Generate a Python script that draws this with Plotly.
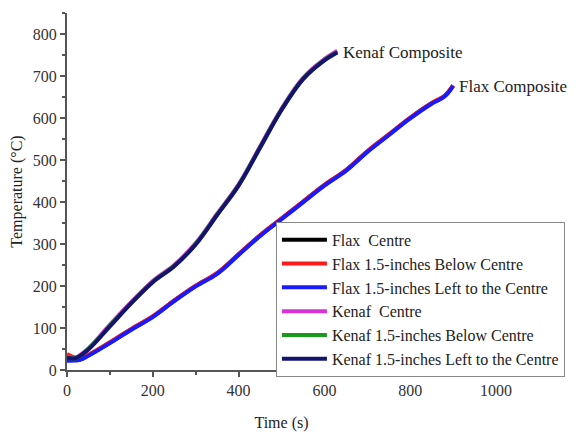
import plotly.graph_objects as go

# Time (s)
kenaf_time = [0, 20, 50, 100, 150, 200, 250, 300, 350, 400, 450, 500, 550, 600, 630]
flax_time = [0, 30, 50, 100, 150, 200, 250, 300, 350, 400, 450, 500, 550, 600, 650, 700, 750, 800, 850, 880, 900]

# Temperature (°C)
kenaf_centre = [32, 30, 52, 108, 162, 212, 250, 302, 372, 442, 532, 622, 695, 740, 760]
kenaf_below = [30, 28, 50, 105, 160, 210, 248, 300, 370, 440, 530, 620, 693, 738, 757]
kenaf_left = [29, 28, 49, 104, 159, 209, 247, 299, 369, 439, 529, 619, 692, 737, 756]

flax_centre = [24, 25, 35, 65, 97, 127, 165, 200, 230, 275, 320, 360, 400, 440, 475, 520, 560, 600, 635, 652, 677]
flax_below = [38, 27, 36, 66, 98, 128, 166, 201, 231, 276, 321, 361, 401, 441, 476, 521, 561, 601, 636, 653, 678]
flax_left = [22, 24, 34, 64, 96, 126, 164, 199, 229, 274, 319, 359, 399, 439, 474, 519, 559, 599, 634, 651, 676]

series = [
    ("Flax  Centre", flax_time, flax_centre, "#000000"),
    ("Flax 1.5-inches Below Centre", flax_time, flax_below, "#ff1a1a"),
    ("Flax 1.5-inches Left to the Centre", flax_time, flax_left, "#1a1aff"),
    ("Kenaf  Centre", kenaf_time, kenaf_centre, "#d633d6"),
    ("Kenaf 1.5-inches Below Centre", kenaf_time, kenaf_below, "#1a9a1a"),
    ("Kenaf 1.5-inches Left to the Centre", kenaf_time, kenaf_left, "#14146e"),
]

FONT = "Liberation Serif"

fig = go.Figure()
for name, x, y, c in series:
    fig.add_trace(go.Scatter(x=x, y=y, mode="lines", name=name,
                             line=dict(color=c, width=4, shape="spline", smoothing=1.0)))

fig.add_annotation(x=kenaf_time[-1], y=kenaf_left[-1], text="Kenaf Composite",
                   showarrow=False, xanchor="left", yanchor="middle", xshift=4,
                   font=dict(family=FONT, size=17, color="#222"))
fig.add_annotation(x=flax_time[-1], y=flax_left[-1], text="Flax Composite",
                   showarrow=False, xanchor="left", yanchor="middle", xshift=4,
                   font=dict(family=FONT, size=17, color="#222"))

axis_common = dict(showgrid=False, zeroline=False, showline=True, linecolor="#555",
                   linewidth=2, ticks="outside", tickcolor="#555", tickwidth=1.5, ticklen=5,
                   tickfont=dict(family=FONT, size=16, color="#333"),
                   mirror=False, automargin=False)

fig.update_layout(
    width=579, height=432,
    margin=dict(l=67, r=83, t=13, b=62, autoexpand=False),
    paper_bgcolor="white", plot_bgcolor="white",
    font=dict(family=FONT, color="#222"),
    xaxis=dict(range=[0, 1000], dtick=200,
               minor=dict(dtick=100, ticks="outside", ticklen=3, tickcolor="#555"),
               title=dict(text="Time (s)", font=dict(family=FONT, size=16), standoff=19),
               **axis_common),
    yaxis=dict(range=[0, 850], dtick=100,
               minor=dict(dtick=50, ticks="outside", ticklen=3, tickcolor="#555"),
               title=dict(text="Temperature (°C)", font=dict(family=FONT, size=16), standoff=6),
               **axis_common),
    legend=dict(x=0.487, y=0.415, xanchor="left", yanchor="top",
                bordercolor="#888", borderwidth=1, bgcolor="rgba(255,255,255,1)",
                font=dict(family=FONT, size=16, color="#222"),
                tracegroupgap=0, itemwidth=45),
    showlegend=True,
)

fig.write_html("out.html", config={"displayModeBar": False},
               post_script="document.body.style.margin='0';document.body.style.overflow='hidden';")
